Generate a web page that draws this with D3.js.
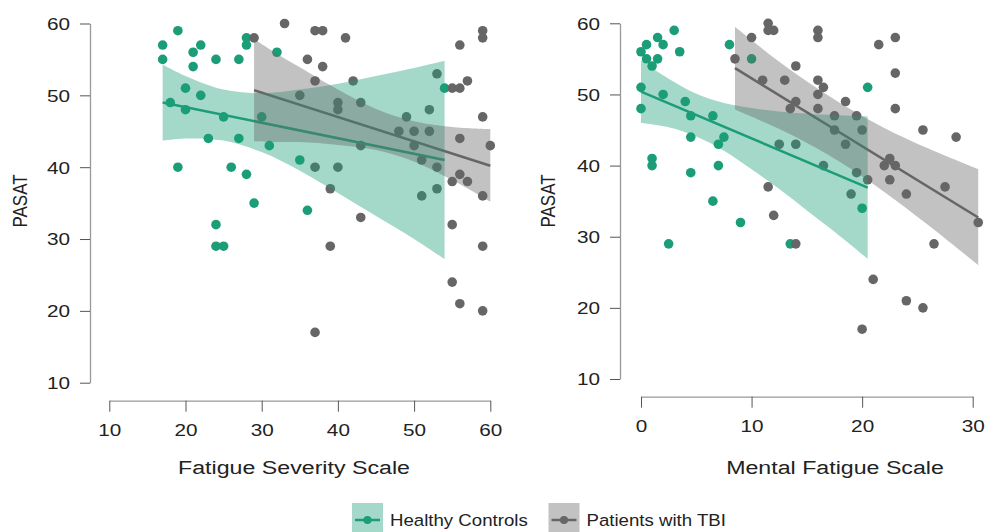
<!DOCTYPE html>
<html>
<head>
<meta charset="utf-8">
<script src="https://cdn.jsdelivr.net/npm/d3@7"></script>
<style>
  html, body { margin: 0; padding: 0; background: #fff; }
  svg { display: block; font-family: "Liberation Sans", Arial, sans-serif; }
</style>
</head>
<body>
<svg id="chart" width="986" height="532"></svg>
<script>
// PASAT vs fatigue scores
const pasatTicks = [10, 20, 30, 40, 50, 60];
const fssTicks = [10, 20, 30, 40, 50, 60];
const mfsTicks = [0, 10, 20, 30];
const groups = ['Healthy Controls', 'Patients with TBI'];
const groupColors = ['#1b9e77', '#666666'];

// [score, PASAT]
const hcFatigueSeverity = [[17,57],[17,55],[18,49],[19,59],[19,40],[20,51],[20,48],[21,56],[21,54],[22,57],[22,50],[23,44],[24,55],[24,32],[24,29],[25,47],[25,29],[26,40],[27,55],[27,44],[28,58],[28,57],[28,39],[29,35],[30,47],[31,43],[32,56],[35,41],[36,34],[54,51]];
const tbiFatigueSeverity = [[29,58],[33,60],[35,50],[36,55],[37,59],[37,52],[37,40],[37,17],[38,59],[38,54],[39,37],[39,29],[40,49],[40,48],[40,40],[41,58],[42,52],[43,49],[43,43],[43,33],[48,45],[49,47],[50,45],[50,43],[51,41],[51,36],[52,48],[52,45],[53,53],[53,40],[53,37],[55,51],[55,38],[55,32],[55,24],[56,57],[56,51],[56,44],[56,39],[56,21],[57,52],[57,38],[59,59],[59,58],[59,47],[59,36],[59,29],[59,20],[60,43]];
const hcMentalFatigue = [[0,56],[0,51],[0,48],[0.5,57],[0.5,55],[1,54],[1,41],[1,40],[1.5,58],[1.5,55],[2,57],[2,50],[2.5,29],[3,59],[3.5,56],[4,49],[4.5,47],[4.5,44],[4.5,39],[6.5,47],[6.5,35],[7,43],[7,40],[7.5,44],[8,57],[9,32],[10,55],[13.5,29],[20,34],[20.5,51]];
const tbiMentalFatigue = [[8.5,55],[10,58],[11,52],[11.5,60],[11.5,59],[11.5,37],[12,59],[12,33],[12.5,43],[13,52],[13.5,48],[14,54],[14,49],[14,43],[14,29],[16,59],[16,58],[16,52],[16,50],[16,48],[16.5,51],[16.5,40],[17.5,47],[17.5,45],[18.5,49],[18.5,43],[19,36],[19.5,47],[19.5,39],[20,45],[20,17],[20.5,38],[21,24],[21.5,57],[22,40],[22.5,41],[22.5,38],[23,58],[23,53],[23,48],[23,40],[24,36],[24,21],[25.5,45],[25.5,20],[26.5,29],[27.5,37],[28.5,44],[30.5,32]];

// fitted lines: [x, PASAT] at both ends
const hcFssFit = [[17, 49.0], [54, 41.0]];
const tbiFssFit = [[29, 50.7], [60, 40.2]];
const hcMfsFit = [[0, 50.4], [20.5, 36.9]];
const tbiMfsFit = [[8.5, 53.7], [30.5, 32.7]];

// 95% bands: [x, lower, upper]
const hcFssBand = [[17,43.7,54.3],[20,44.0,52.7],[25,43.7,50.8],[30,42.1,50.3],[35,39.5,50.8],[40,36.4,51.6],[45,33.2,52.7],[50,30.0,53.8],[54,27.2,54.8]];
const tbiFssBand = [[29,43.6,57.8],[32,43.5,55.8],[35,43.5,53.9],[40,43.1,50.8],[45,42.4,48.1],[50,40.8,46.4],[55,38.2,45.6],[60,35.2,45.3]];
const hcMfsBand = [[0,46.0,54.8],[2.5,45.4,52.2],[5,44.1,50.1],[7.5,42.1,48.8],[10,39.5,48.1],[12.5,36.7,47.6],[15,33.7,47.3],[17.5,30.7,47.1],[20.5,26.9,46.9]];
const tbiMfsBand = [[8.5,47.9,59.5],[11,46.2,56.4],[14,44.0,52.9],[18,40.5,48.8],[22,36.3,45.3],[26,31.6,42.4],[30.5,26.0,39.5]];

const sx = 1.22; // text in the figure is stretched sideways
const svg = d3.select('#chart');

function stretch(sel, fs) {
  sel.attr('font-size', fs).attr('fill', '#222');
}

function drawPanel(p) {
  const x = d3.scaleLinear().domain(p.xDomain).range(p.xRange);
  const y = d3.scaleLinear().domain([10, 60]).range(p.yRange);
  const g = svg.append('g');

  // y axis
  g.append('g')
    .attr('transform', `translate(${p.yAxisX},0)`)
    .call(d3.axisLeft(y).tickValues(pasatTicks).tickSize(10).tickSizeOuter(0))
    .call(a => a.select('.domain').attr('stroke', '#999').attr('stroke-width', 1.3))
    .call(a => a.selectAll('.tick line').attr('stroke', '#555'))
    .call(a => a.selectAll('.tick text')
      .attr('x', 0).attr('dy', null)
      .attr('dominant-baseline', 'central')
      .attr('transform', `translate(-20,0) scale(${sx},1)`)
      .attr('font-family', null)
      .call(t => stretch(t, 17)));

  // x axis
  g.append('g')
    .attr('transform', `translate(0,${p.xAxisY})`)
    .call(d3.axisBottom(x).tickValues(p.xTicks).tickSize(11).tickSizeOuter(0))
    .call(a => a.select('.domain').attr('stroke', '#999').attr('stroke-width', 1.3))
    .call(a => a.selectAll('.tick line').attr('stroke', '#555'))
    .call(a => a.selectAll('.tick text')
      .attr('y', 0).attr('dy', null)
      .attr('dominant-baseline', 'central')
      .attr('transform', `translate(0,29.5) scale(${sx},1)`)
      .attr('font-family', null)
      .call(t => stretch(t, 17)));

  g.append('text')
    .attr('transform', `translate(${p.yTitleX},201) scale(${sx},1) rotate(-90)`)
    .attr('text-anchor', 'middle')
    .attr('dominant-baseline', 'central')
    .text('PASAT')
    .call(t => stretch(t, 17));

  g.append('text')
    .attr('transform', `translate(${p.xTitleX},467) scale(${sx},1)`)
    .attr('text-anchor', 'middle')
    .attr('dominant-baseline', 'central')
    .text(p.xTitle)
    .call(t => stretch(t, 19));

  // points
  p.points.forEach((pts, i) => {
    g.append('g').selectAll('circle')
      .data(pts)
      .join('circle')
      .attr('cx', d => x(d[0]))
      .attr('cy', d => y(d[1]))
      .attr('r', 4.8)
      .attr('fill', groupColors[i]);
  });

  // fit lines
  const line = d3.line().x(d => x(d[0])).y(d => y(d[1]));
  p.fits.forEach((f, i) => {
    g.append('path')
      .attr('d', line(f))
      .attr('fill', 'none')
      .attr('stroke', groupColors[i])
      .attr('stroke-width', 2.5);
  });

  // confidence bands on top, translucent
  const area = d3.area()
    .x(d => x(d[0]))
    .y0(d => y(d[1]))
    .y1(d => y(d[2]))
    .curve(d3.curveCatmullRom);
  p.bands.forEach((b, i) => {
    g.append('path')
      .attr('d', area(b))
      .attr('fill', groupColors[i])
      .attr('fill-opacity', 0.4);
  });
}

drawPanel({
  xDomain: [10, 60], xRange: [109.3, 490.3], yRange: [382.7, 23.5],
  yAxisX: 90, xAxisY: 400.7, yTitleX: 20, xTitleX: 294,
  xTicks: fssTicks, xTitle: 'Fatigue Severity Scale',
  points: [hcFatigueSeverity, tbiFatigueSeverity],
  fits: [hcFssFit, tbiFssFit],
  bands: [hcFssBand, tbiFssBand]
});

drawPanel({
  xDomain: [0, 30], xRange: [641, 972.7], yRange: [379, 23.3],
  yAxisX: 620, xAxisY: 396.7, yTitleX: 548, xTitleX: 835,
  xTicks: mfsTicks, xTitle: 'Mental Fatigue Scale',
  points: [hcMentalFatigue, tbiMentalFatigue],
  fits: [hcMfsFit, tbiMfsFit],
  bands: [hcMfsBand, tbiMfsBand]
});

// legend
const legendX = [352, 548.5];
groups.forEach((name, i) => {
  const lg = svg.append('g').attr('transform', `translate(${legendX[i]},503)`);
  lg.append('rect')
    .attr('width', 31).attr('height', 34)
    .attr('fill', groupColors[i]).attr('fill-opacity', 0.4);
  lg.append('line')
    .attr('x1', 3).attr('x2', 28).attr('y1', 17).attr('y2', 17)
    .attr('stroke', groupColors[i]).attr('stroke-width', 2.5);
  lg.append('circle')
    .attr('cx', 15.5).attr('cy', 17).attr('r', 4)
    .attr('fill', groupColors[i]);
  lg.append('text')
    .attr('transform', `translate(38,17) scale(1.11,1)`)
    .attr('dominant-baseline', 'central')
    .text(name)
    .call(t => stretch(t, 16.8));
});
</script>
</body>
</html>
